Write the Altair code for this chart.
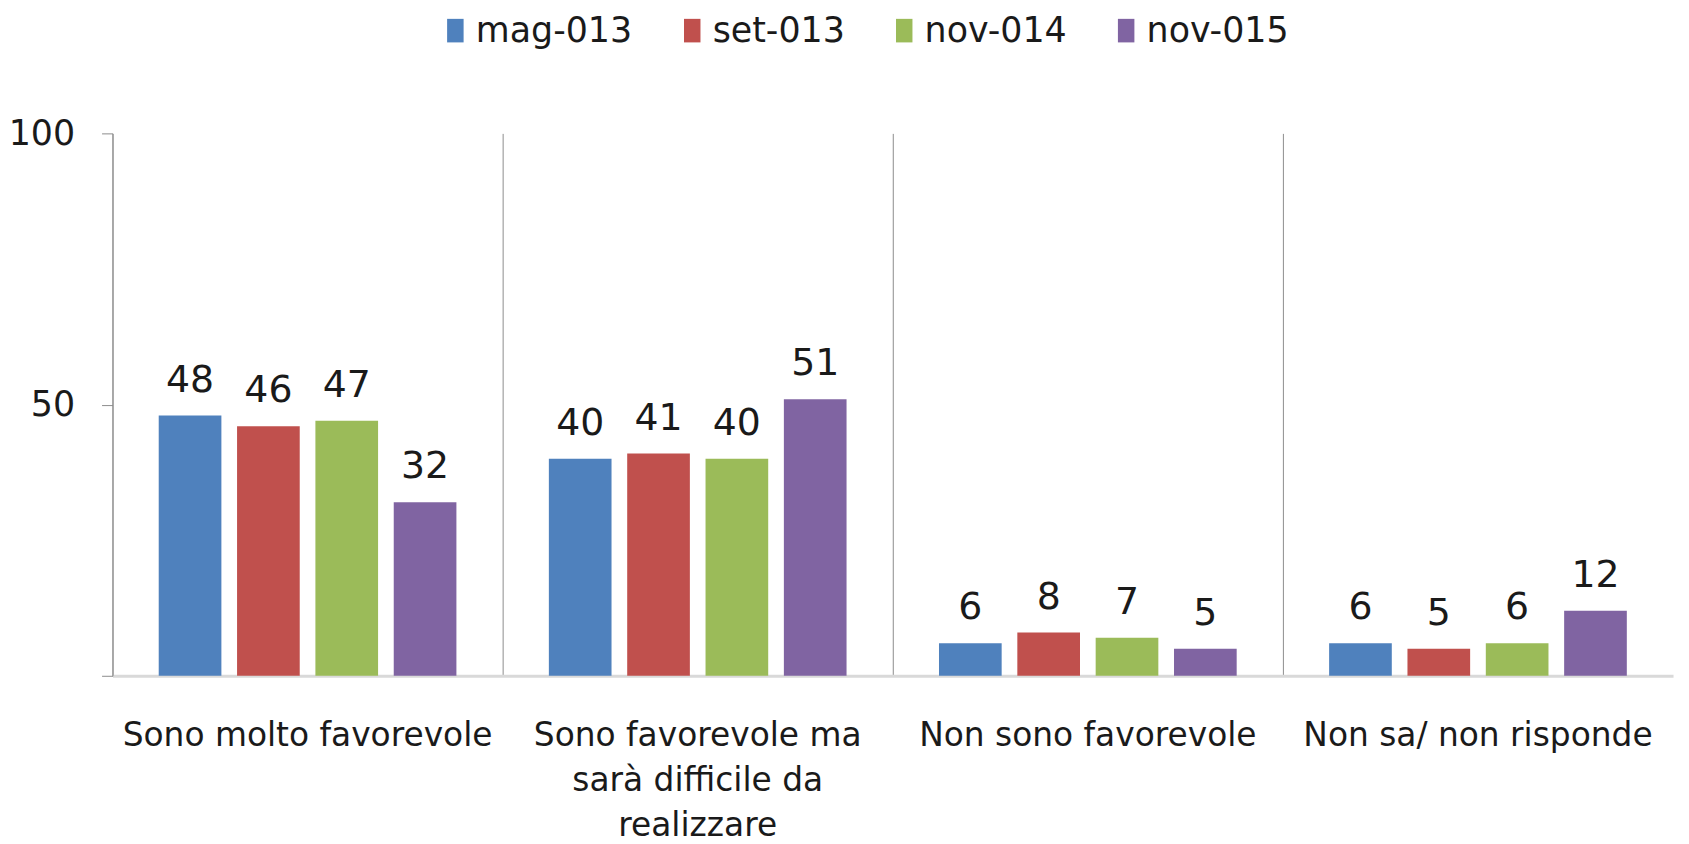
import altair as alt
import pandas as pd

categories = ["Sono molto favorevole",
              "Sono favorevole ma|sarà difficile da|realizzare",
              "Non sono favorevole",
              "Non sa/ non risponde"]
series = ["mag-013", "set-013", "nov-014", "nov-015"]
colors = ["#4F81BD", "#C0504D", "#9BBB59", "#8064A2"]
values = {
    "mag-013": [48, 40, 6, 6],
    "set-013": [46, 41, 8, 5],
    "nov-014": [47, 40, 7, 6],
    "nov-015": [32, 51, 5, 12],
}

rows = []
for s in series:
    for c, v in zip(categories, values[s]):
        rows.append({"cat": c, "serie": s, "val": v})
df = pd.DataFrame(rows)

FONT = "DejaVu Sans"
TXT = "#1a1a1a"

x = alt.X("cat:N", sort=categories, title=None,
          scale=alt.Scale(paddingInner=0, paddingOuter=0),
          axis=alt.Axis(labelExpr="split(datum.label, '|')", labelAngle=0,
                        labelFont=FONT, labelFontSize=33, labelColor=TXT,
                        labelLineHeight=45, labelPadding=44, labelBaseline="top",
                        labelLimit=0, ticks=False, domainColor="#D9D9D9", domainWidth=3,
                        grid=True, gridColor="#8C8C8C", gridWidth=1,
                        bandPosition=0, labelBound=False, labelOverlap=False))
xo = alt.XOffset("serie:N", sort=series,
                 scale=alt.Scale(paddingInner=0.2, paddingOuter=0.59))
y = alt.Y("val:Q", title=None,
          scale=alt.Scale(domain=[0, 100], nice=False),
          axis=alt.Axis(values=[0, 50, 100], labelExpr="datum.value == 0 ? '' : datum.label",
                        labelFont=FONT, labelFontSize=35, labelColor=TXT,
                        labelPadding=27, tickSize=11, tickColor="#8C8C8C",
                        domainColor="#8C8C8C", grid=False))

bars = alt.Chart(df).mark_bar().encode(
    x=x, xOffset=xo, y=y,
    color=alt.Color("serie:N", sort=series,
                    scale=alt.Scale(domain=series, range=colors),
                    legend=alt.Legend(title=None, orient="none", direction="horizontal",
                                      legendX=327, legendY=-121,
                                      symbolType="M-0.7,-1H0.7V1H-0.7Z", symbolSize=560,
                                      symbolStrokeWidth=0, labelFont=FONT, labelFontSize=35,
                                      labelLimit=0, labelColor=TXT, labelOffset=3,
                                      columnPadding=42)),
)
labels = alt.Chart(df).mark_text(font=FONT, fontSize=38, color=TXT, baseline="alphabetic",
                                 dy=-24).encode(
    x=x, xOffset=xo, y=y, text="val:Q")

chart = alt.layer(bars, labels).properties(
    width=1568, height=545,
    padding={"left": 105, "top": 124, "right": 8, "bottom": 162},
    autosize=alt.AutoSizeParams(type="none"),
    background="white",
).configure_view(stroke=None, strokeWidth=0)

chart.save("out.html", embed_options={"renderer": "svg", "actions": False})
